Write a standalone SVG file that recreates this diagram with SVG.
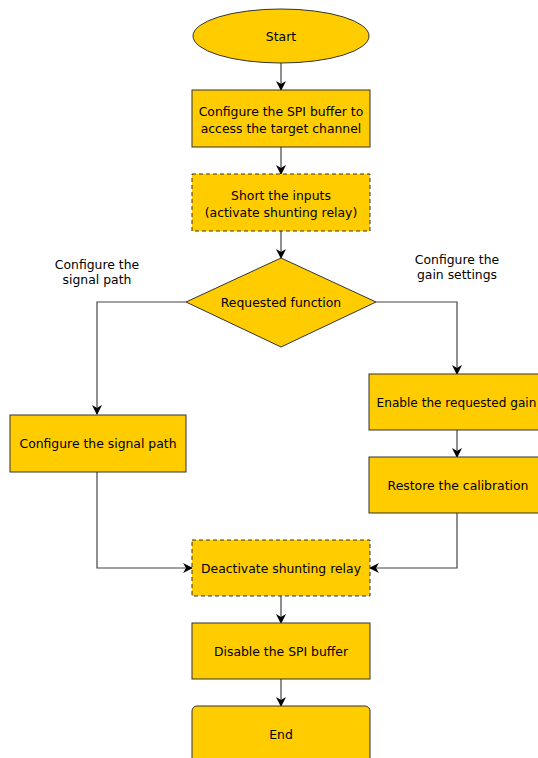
<svg xmlns="http://www.w3.org/2000/svg" width="538" height="758" viewBox="0 0 538 758">
<style>
.n{fill:#ffcc00;stroke:#333;stroke-width:1}
.d{stroke-dasharray:4 3}
.e{fill:none;stroke:#444;stroke-width:1.2}
text{font-family:"DejaVu Sans",Verdana,sans-serif;font-size:12.4px;fill:#000;text-anchor:middle}
</style>
<defs>
<marker id="ar" viewBox="0 0 10 10" refX="9" refY="5" markerWidth="10" markerHeight="10" markerUnits="userSpaceOnUse" orient="auto">
<path d="M0,0 L10,5 L0,10 L3,5 Z" fill="#000"/>
</marker>
</defs>
<rect width="538" height="758" fill="#fff"/>
<g id="connectors">
<path class="e" d="M281,63 V90" marker-end="url(#ar)"/>
<path class="e" d="M281,147 V174" marker-end="url(#ar)"/>
<path class="e" d="M281,231 V258" marker-end="url(#ar)"/>
<path class="e" d="M186,302 H97 V414" marker-end="url(#ar)"/>
<path class="e" d="M376,302 H457 V374" marker-end="url(#ar)"/>
<path class="e" d="M457,430 V457" marker-end="url(#ar)"/>
<path class="e" d="M97,472 V568 H192" marker-end="url(#ar)"/>
<path class="e" d="M457,513 V568 H370" marker-end="url(#ar)"/>
<path class="e" d="M281,596 V623" marker-end="url(#ar)"/>
<path class="e" d="M281,679 V706" marker-end="url(#ar)"/>
</g>
<g id="start"><ellipse class="n" cx="281" cy="36" rx="88" ry="27"/><text x="281" y="41">Start</text></g>
<g id="configure-spi"><rect class="n" x="192" y="90" width="178" height="57"/><text x="281" y="116">Configure the SPI buffer to</text><text x="281" y="133">access the target channel</text></g>
<g id="short-inputs"><rect class="n d" x="192" y="174" width="178" height="57"/><text x="281" y="200">Short the inputs</text><text x="281" y="217">(activate shunting relay)</text></g>
<g id="requested-function"><path class="n" d="M281,258 L376,302 L281,347 L186,302 Z"/><text x="281" y="307">Requested function</text></g>
<g id="label-signal"><text x="97" y="269">Configure the</text><text x="97" y="284">signal path</text></g>
<g id="label-gain"><text x="457" y="264">Configure the</text><text x="457" y="279">gain settings</text></g>
<g id="configure-signal"><rect class="n" x="10" y="415" width="176" height="57"/><text x="98" y="448">Configure the signal path</text></g>
<g id="enable-gain"><rect class="n" x="369" y="374" width="178" height="56"/><text x="456.5" y="407" style="font-size:12.1px">Enable the requested gain</text></g>
<g id="restore-cal"><rect class="n" x="369" y="457" width="178" height="56"/><text x="458" y="490">Restore the calibration</text></g>
<g id="deactivate"><rect class="n d" x="192" y="540" width="178" height="56"/><text x="281" y="573">Deactivate shunting relay</text></g>
<g id="disable-spi"><rect class="n" x="192" y="623" width="178" height="56"/><text x="281" y="656">Disable the SPI buffer</text></g>
<g id="end"><rect class="n" x="192" y="706" width="178" height="70" rx="5"/><text x="281" y="739">End</text></g>
</svg>
